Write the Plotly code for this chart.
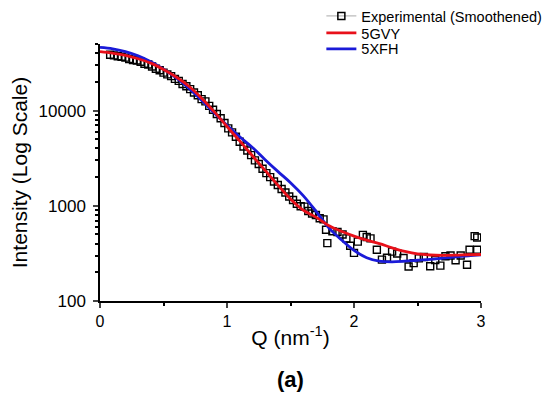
import plotly.graph_objects as go

# Experimental (Smoothened) data
exp_q = [0.08, 0.11, 0.14, 0.17, 0.20, 0.23, 0.26, 0.29, 0.32, 0.35, 0.38, 0.41, 0.44, 0.47,
         0.50, 0.53, 0.56, 0.59, 0.62, 0.65, 0.68, 0.71, 0.74, 0.77, 0.80, 0.83, 0.86, 0.89,
         0.92, 0.95, 0.98, 1.01, 1.04, 1.07, 1.10, 1.13, 1.16, 1.19, 1.22, 1.25, 1.28, 1.31,
         1.34, 1.37, 1.40, 1.43, 1.46, 1.49, 1.52, 1.55, 1.58, 1.61, 1.64, 1.67, 1.70, 1.73,
         1.76, 1.78, 1.79, 1.83, 1.87, 1.91, 1.94, 1.97, 2.00, 2.03, 2.07, 2.10, 2.13, 2.18,
         2.22, 2.26, 2.30, 2.34, 2.39, 2.43, 2.47, 2.51, 2.55, 2.60, 2.64, 2.68, 2.72, 2.76,
         2.80, 2.84, 2.89, 2.91, 2.95, 2.97, 2.97]
exp_i = [38500, 38000, 37200, 36800, 36000, 34800, 34000, 33500, 32500, 31000, 30500, 29000, 27500, 26500,
         25000, 24000, 23000, 21500, 20500, 19000, 18000, 16800, 15500, 14500, 13200, 12500, 11200, 10200,
         9200, 8300, 7400, 6500, 5900, 5300, 4700, 4200, 3800, 3400, 3000, 2750, 2450, 2200,
         2000, 1800, 1650, 1500, 1380, 1250, 1150, 1050, 990, 980, 880, 830, 800, 740,
         720, 560, 405, 540, 530, 500, 455, 380, 320, 420, 495, 470, 455, 345,
         272, 285, 330, 315, 283, 230, 250, 280, 290, 232, 270, 235, 295, 300,
         268, 300, 240, 345, 480, 345, 465]

# Model curves
model_q = [0.0, 0.1, 0.2, 0.3, 0.4, 0.5, 0.6, 0.7, 0.8, 0.9, 1.0, 1.1, 1.2, 1.3, 1.4, 1.5,
           1.6, 1.7, 1.8, 1.9, 2.0, 2.1, 2.2, 2.3, 2.4, 2.5, 2.6, 2.7, 2.8, 2.9, 3.0]
gvy_i = [41500, 40000, 38000, 35000, 31500, 27000, 22500, 18000, 13500, 9700, 6800, 4800, 3350, 2350,
         1650, 1180, 900, 760, 620, 540, 480, 435, 400, 362, 332, 312, 304, 302, 303, 306, 308]
xfh_i = [46000, 44500, 41500, 37500, 32500, 27200, 22000, 17200, 12800, 9400, 7000, 5300, 4100, 3050,
         2300, 1750, 1280, 880, 590, 440, 340, 285, 262, 258, 262, 268, 274, 282, 290, 298, 305]

x_ticks = [0, 1, 2, 3]
y_ticks = [100, 1000, 10000]
y_tick_text = ["100", "1000", "10000"]
y_minor = [200, 300, 400, 500, 600, 700, 800, 900,
           2000, 3000, 4000, 5000, 6000, 7000, 8000, 9000,
           20000, 30000, 40000, 50000]

FONT = "Liberation Sans, Arial, sans-serif"

fig = go.Figure()
fig.add_trace(go.Scatter(
    x=exp_q, y=exp_i, mode="markers", showlegend=False,
    marker=dict(symbol="square-open", size=7, color="black", line=dict(width=1.4)),
))
# legend entry for experimental data
fig.add_trace(go.Scatter(
    x=[None], y=[None], mode="lines+markers", name="Experimental (Smoothened)",
    line=dict(color="#aaaaaa", width=1),
    marker=dict(symbol="square-open", size=7, color="black", line=dict(width=1.5)),
    legend="legend",
))
fig.add_trace(go.Scatter(
    x=model_q, y=xfh_i, mode="lines", name="5XFH",
    line=dict(color="#1a1ad8", width=2.8, shape="spline"), legend="legend3",
))
fig.add_trace(go.Scatter(
    x=model_q, y=gvy_i, mode="lines", name="5GVY",
    line=dict(color="#e8101a", width=2.8, shape="spline"), legend="legend2",
))

leg = dict(x=0.581, xanchor="left", yanchor="middle", bgcolor="rgba(0,0,0,0)",
           font=dict(size=14.5, family=FONT), itemwidth=30)

# page body has an 8px margin, so the figure is drawn 8px smaller
fig.update_layout(
    width=547, height=386,
    margin=dict(l=92, r=74, t=36, b=93, autoexpand=False),
    paper_bgcolor="white", plot_bgcolor="white",
    font=dict(family=FONT, color="black"),
    legend=dict(leg, y=1.109),
    legend2=dict(leg, y=1.043),
    legend3=dict(leg, y=0.981),
    annotations=[dict(text="<b>(a)</b>", x=0.5, y=-0.305, xref="paper", yref="paper",
                      xanchor="center", yanchor="middle", showarrow=False,
                      font=dict(size=22, family=FONT))],
)
fig.update_xaxes(
    range=[0, 3], tickvals=x_ticks, ticks="outside", ticklen=5, tickwidth=1.5,
    showline=True, linecolor="black", linewidth=1.5, showgrid=False, zeroline=False,
    tickfont=dict(size=16), title=dict(text="Q (nm<sup>-1</sup>)", font=dict(size=21), standoff=1),
    minor=dict(dtick=0.5, ticks="outside", ticklen=3, tickcolor="black", showgrid=False),
)
fig.update_yaxes(
    type="log", range=[2, 4.699], tickvals=y_ticks, ticktext=y_tick_text,
    ticks="outside", ticklen=5, tickwidth=1.5, ticklabelstandoff=4,
    showline=True, linecolor="black", linewidth=1.5, showgrid=False, zeroline=False,
    tickfont=dict(size=17), title=dict(text="Intensity (Log Scale)", font=dict(size=21), standoff=10),
    minor=dict(tickvals=y_minor, ticks="outside", ticklen=3, tickcolor="black", showgrid=False),
)

fig.write_html("out.html")
